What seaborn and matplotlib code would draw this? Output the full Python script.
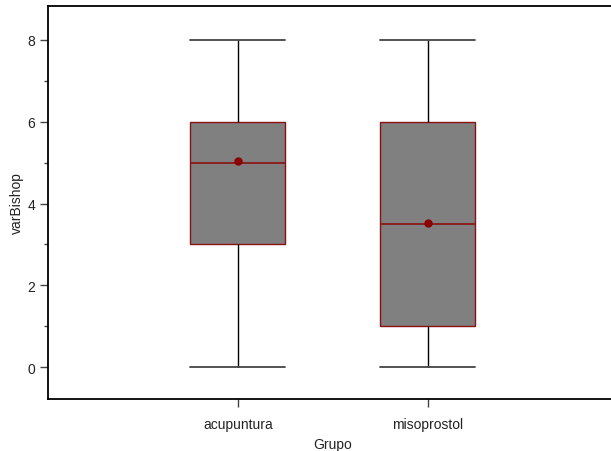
"""
Boxplot of varBishop by Grupo (acupuntura vs misoprostol)
"""
import numpy as np
import pandas as pd
import seaborn as sns
import matplotlib.pyplot as plt
from matplotlib.ticker import MultipleLocator

# Bishop score values and how many patients got each one, per group
scores = [0, 1, 2, 3, 4, 5, 6, 7, 8]
acupuntura_counts = [1, 0, 0, 9, 0, 8, 5, 2, 5]
misoprostol_counts = [5, 6, 2, 2, 3, 1, 7, 1, 3]
groups = ["acupuntura", "misoprostol"]

df = pd.DataFrame({
    "Grupo": [groups[0]] * sum(acupuntura_counts) + [groups[1]] * sum(misoprostol_counts),
    "varBishop": np.concatenate([np.repeat(scores, acupuntura_counts),
                                 np.repeat(scores, misoprostol_counts)]),
})

sns.set_style("ticks")
plt.rcParams["font.family"] = ["Liberation Sans", "DejaVu Sans"]

fig = plt.figure(figsize=(6.11, 4.52), dpi=100)
ax = fig.add_axes([48 / 611, 52 / 452, 570 / 611, 393 / 452])

sns.boxplot(
    data=df, x="Grupo", y="varBishop", order=groups, ax=ax,
    width=0.5, color="#808080", saturation=1, linecolor="black", linewidth=1,
    showmeans=True, showfliers=False, capwidths=0.5,
    boxprops={"facecolor": "#808080", "edgecolor": "#8b1010"},
    medianprops={"color": "#8b1010", "linewidth": 1.2},
    whiskerprops={"color": "black", "linewidth": 1},
    capprops={"color": "#444444", "linewidth": 1.3},
    meanprops={"marker": "o", "markerfacecolor": "#8b0000",
               "markeredgecolor": "#8b0000", "markersize": 5},
)

ax.set_xlim(-1, 2)
ax.set_ylim(-0.78, 8.83)
ax.set_yticks([0, 2, 4, 6, 8])
ax.yaxis.set_minor_locator(MultipleLocator(1))

for side in ["left", "bottom", "top", "right"]:
    ax.spines[side].set_linewidth(1.3)
    ax.spines[side].set_color("black")

ax.tick_params(axis="both", which="major", length=6, width=1, colors="#444444",
               labelsize=10, labelcolor="#222222")
ax.tick_params(axis="x", pad=7)
ax.tick_params(axis="y", pad=3)
ax.tick_params(axis="y", which="minor", length=3, width=1, colors="#444444")
ax.tick_params(axis="x", which="minor", length=0)

ax.set_xlabel("Grupo", fontsize=10, color="#222222", labelpad=4)
ax.set_ylabel("varBishop", fontsize=10, color="#222222", labelpad=3)

fig.savefig("out.png", dpi=100)
